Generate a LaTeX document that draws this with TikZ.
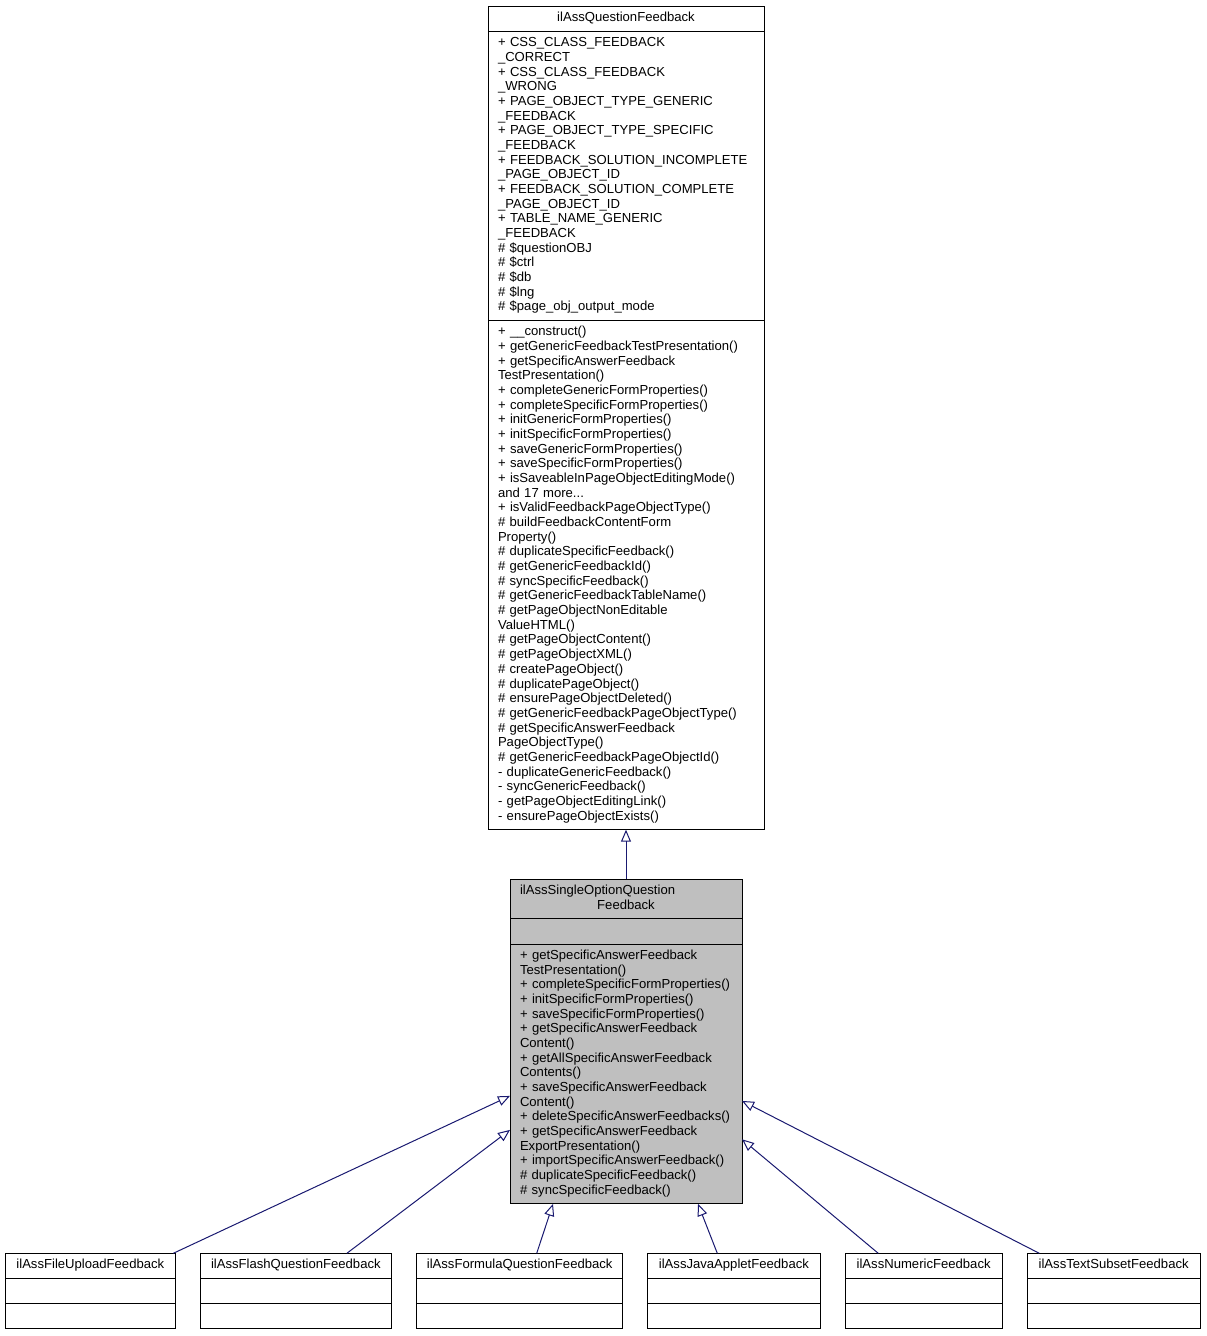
\documentclass[tikz,border=0pt]{standalone}
\usepackage{fontspec}
\setmainfont{Liberation Sans}
\usetikzlibrary{positioning,arrows.meta}

\definecolor{edgeblue}{HTML}{191970}
\definecolor{classgray}{HTML}{BFBFBF}

\tikzset{
	part/.style={draw=black, line width=1pt, outer sep=0pt, inner xsep=10pt, inner ysep=0pt, align=left,
		font={\fontsize{13.1}{14.67}\selectfont\hyphenpenalty=10000\exhyphenpenalty=10000},
		execute at begin node=\strut, execute at end node=\strut},
	nlines/.style={minimum height=#1*14.67pt+10.5pt},
	ctitle/.style={part, align=center, nlines=1},
	focus/.style={fill=classgray},
	inherit/.style={draw=edgeblue, line width=1pt, -{Triangle[open, length=12pt, width=10pt]}},
}

\begin{document}
\begin{tikzpicture}[x=1pt, y=-1pt]
		\useasboundingbox (0, 0) rectangle (1207, 1336);
		% Base class:
		\node[ctitle, text width=256pt, anchor=north] (qftitle) at (626, 6) {ilAssQuestionFeedback};
		\node[part, nlines=19, text width=256pt, below=0pt of qftitle] (qfattr) {+ CSS\_CLASS\_FEEDBACK\\\_CORRECT\\+ CSS\_CLASS\_FEEDBACK\\\_WRONG\\+ PAGE\_OBJECT\_TYPE\_GENERIC\\\_FEEDBACK\\+ PAGE\_OBJECT\_TYPE\_SPECIFIC\\\_FEEDBACK\\+ FEEDBACK\_SOLUTION\_INCOMPLETE\\\_PAGE\_OBJECT\_ID\\+ FEEDBACK\_SOLUTION\_COMPLETE\\\_PAGE\_OBJECT\_ID\\+ TABLE\_NAME\_GENERIC\\\_FEEDBACK\\\# \$questionOBJ\\\# \$ctrl\\\# \$db\\\# \$lng\\\# \$page\_obj\_output\_mode};
		\node[part, nlines=34, text width=256pt, below=0pt of qfattr] (qfmeth) {+ \_\_construct()\\+ getGenericFeedbackTestPresentation()\\+ getSpecificAnswerFeedback\\TestPresentation()\\+ completeGenericFormProperties()\\+ completeSpecificFormProperties()\\+ initGenericFormProperties()\\+ initSpecificFormProperties()\\+ saveGenericFormProperties()\\+ saveSpecificFormProperties()\\+ isSaveableInPageObjectEditingMode()\\and 17 more...\\+ isValidFeedbackPageObjectType()\\\# buildFeedbackContentForm\\Property()\\\# duplicateSpecificFeedback()\\\# getGenericFeedbackId()\\\# syncSpecificFeedback()\\\# getGenericFeedbackTableName()\\\# getPageObjectNonEditable\\ValueHTML()\\\# getPageObjectContent()\\\# getPageObjectXML()\\\# createPageObject()\\\# duplicatePageObject()\\\# ensurePageObjectDeleted()\\\# getGenericFeedbackPageObjectType()\\\# getSpecificAnswerFeedback\\PageObjectType()\\\# getGenericFeedbackPageObjectId()\\- duplicateGenericFeedback()\\- syncGenericFeedback()\\- getPageObjectEditingLink()\\- ensurePageObjectExists()};
		% Single option class:
		\node[ctitle, focus, nlines=2, text width=212pt, anchor=north] (sotitle) at (626, 879) {\makebox[212pt][l]{ilAssSingleOptionQuestion}\\Feedback};
		\node[part, focus, nlines=1, text width=212pt, below=0pt of sotitle] (soattr) {};
		\node[part, focus, nlines=17, text width=212pt, below=0pt of soattr] (someth) {+ getSpecificAnswerFeedback\\TestPresentation()\\+ completeSpecificFormProperties()\\+ initSpecificFormProperties()\\+ saveSpecificFormProperties()\\+ getSpecificAnswerFeedback\\Content()\\+ getAllSpecificAnswerFeedback\\Contents()\\+ saveSpecificAnswerFeedback\\Content()\\+ deleteSpecificAnswerFeedbacks()\\+ getSpecificAnswerFeedback\\ExportPresentation()\\+ importSpecificAnswerFeedback()\\\# duplicateSpecificFeedback()\\\# syncSpecificFeedback()};
		% Derived classes:
		\node[ctitle, text width=150.7pt, anchor=north] (fileupload) at (90.35, 1253.3) {ilAssFileUploadFeedback};
		\node[part, nlines=1, text width=150.7pt, below=0pt of fileupload] (fileuploadattr) {};
		\node[part, nlines=1, text width=150.7pt, below=0pt of fileuploadattr] (fileuploadmeth) {};
		\node[ctitle, text width=171.7pt, anchor=north] (flash) at (295.85, 1253.3) {ilAssFlashQuestionFeedback};
		\node[part, nlines=1, text width=171.7pt, below=0pt of flash] (flashattr) {};
		\node[part, nlines=1, text width=171.7pt, below=0pt of flashattr] (flashmeth) {};
		\node[ctitle, text width=186pt, anchor=north] (formula) at (519.7, 1253.3) {ilAssFormulaQuestionFeedback};
		\node[part, nlines=1, text width=186pt, below=0pt of formula] (formulaattr) {};
		\node[part, nlines=1, text width=186pt, below=0pt of formulaattr] (formulameth) {};
		\node[ctitle, text width=152.3pt, anchor=north] (javaapplet) at (733.9, 1253.3) {ilAssJavaAppletFeedback};
		\node[part, nlines=1, text width=152.3pt, below=0pt of javaapplet] (javaappletattr) {};
		\node[part, nlines=1, text width=152.3pt, below=0pt of javaappletattr] (javaappletmeth) {};
		\node[ctitle, text width=137.3pt, anchor=north] (numeric) at (923.65, 1253.3) {ilAssNumericFeedback};
		\node[part, nlines=1, text width=137.3pt, below=0pt of numeric] (numericattr) {};
		\node[part, nlines=1, text width=137.3pt, below=0pt of numericattr] (numericmeth) {};
		\node[ctitle, text width=152.7pt, anchor=north] (textsubset) at (1113.65, 1253.3) {ilAssTextSubsetFeedback};
		\node[part, nlines=1, text width=152.7pt, below=0pt of textsubset] (textsubsetattr) {};
		\node[part, nlines=1, text width=152.7pt, below=0pt of textsubsetattr] (textsubsetmeth) {};
		% Inheritance:
		\draw[inherit] (sotitle.north) -- (qfmeth.south);
		\draw[inherit] ([xshift=-2.4pt]fileupload.north east) -- ([yshift=108pt]someth.south west);
		\draw[inherit] ([xshift=51pt]flash.north) -- ([yshift=74pt]someth.south west);
		\draw[inherit] ([xshift=17pt]formula.north) -- ([xshift=-73pt]someth.south);
		\draw[inherit] ([xshift=-16.6pt]javaapplet.north) -- ([xshift=72pt]someth.south);
		\draw[inherit] ([xshift=-45.4pt]numeric.north) -- ([yshift=64.6pt]someth.south east);
		\draw[inherit] ([xshift=12pt]textsubset.north west) -- ([yshift=103pt]someth.south east);
	\end{tikzpicture}
\end{document}
